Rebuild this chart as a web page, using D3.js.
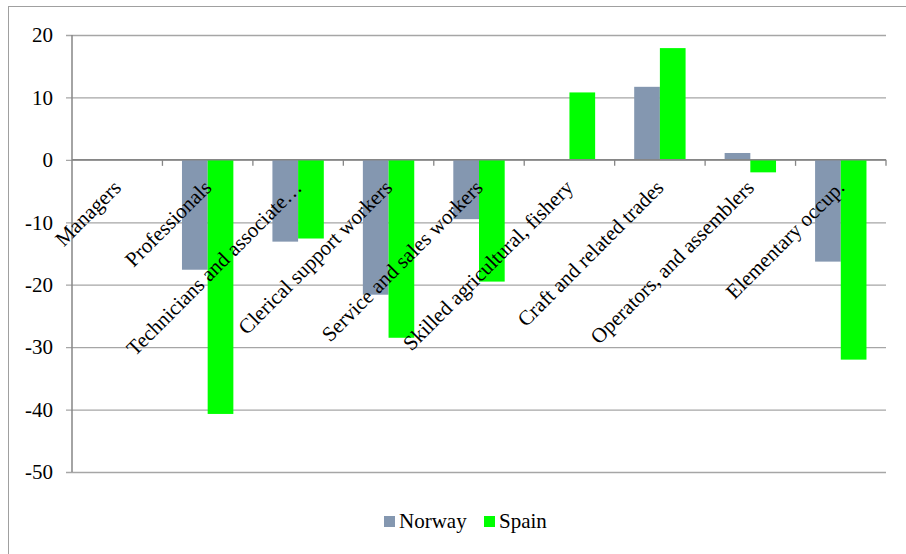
<!DOCTYPE html>
<html>
<head>
<meta charset="utf-8">
<script src="https://cdn.jsdelivr.net/npm/d3@7"></script>
<style>
  html, body { margin: 0; padding: 0; background: #fff; }
  svg { display: block; }
</style>
</head>
<body>
<svg id="chart" width="906" height="554"></svg>
<script>
// Occupational groups and the change per country
const categories = [
  "Managers",
  "Professionals",
  "Technicians and associate…",
  "Clerical support workers",
  "Service and sales workers",
  "Skilled agricultural, fishery",
  "Craft and related trades",
  "Operators, and assemblers",
  "Elementary occup."
];
const seriesNames = ["Norway", "Spain"];
const norway = [0, -17.6, -13.1, -21.6, -9.5, 0, 11.7, 1.1, -16.3];
const spain  = [0, -40.7, -12.6, -28.5, -19.5, 10.8, 17.9, -2.0, -32.0];
const yTicks = [20, 10, 0, -10, -20, -30, -40, -50];
const colors = ["#8497b0", "#00ff00"];

const FONT = "'Liberation Serif'";
const FS = "21px";
const svg = d3.select("#chart");
const W = 906, H = 554;
const plot = { left: 72, right: 886, top: 35, bottom: 472 };

// outer chart frame
svg.append("rect")
  .attr("x", 8.5).attr("y", 6.5)
  .attr("width", W + 20).attr("height", H + 20)
  .attr("fill", "none").attr("stroke", "#a0a0a0").attr("stroke-width", 1);

const x = d3.scaleBand().domain(categories).range([plot.left, plot.right]).paddingInner(0).paddingOuter(0);
const inner = d3.scaleBand().domain(seriesNames).range([0, x.bandwidth()]).paddingInner(0).paddingOuter(0.76);
const y = d3.scaleLinear().domain([-50, 20]).range([plot.bottom, plot.top]);

// horizontal gridlines with left tick marks
const yAxis = d3.axisLeft(y).tickValues(yTicks).tickSize(-(plot.right - plot.left)).tickPadding(19).tickFormat(d => String(d));
const gy = svg.append("g").attr("transform", `translate(${plot.left},0)`).call(yAxis);
gy.select(".domain").remove();
gy.selectAll(".tick line")
  .attr("x1", -6)
  .attr("stroke", "#a6a6a6").attr("stroke-width", 1.3);
gy.selectAll(".tick text")
  .style("font-family", FONT).style("font-size", FS).attr("fill", "#000");

// left axis line
svg.append("line")
  .attr("x1", plot.left).attr("x2", plot.left)
  .attr("y1", plot.top).attr("y2", plot.bottom)
  .attr("stroke", "#868686").attr("stroke-width", 1.5);

// bars
const rows = categories.map((c, i) => ({ cat: c, vals: [norway[i], spain[i]] }));
const groups = svg.append("g").selectAll("g").data(rows).join("g")
  .attr("transform", d => `translate(${x(d.cat)},0)`);
groups.selectAll("rect")
  .data(d => d.vals.map((v, j) => ({ name: seriesNames[j], v, j })))
  .join("rect")
  .attr("x", d => inner(d.name))
  .attr("width", inner.bandwidth())
  .attr("y", d => y(Math.max(0, d.v)))
  .attr("height", d => Math.abs(y(d.v) - y(0)))
  .attr("fill", d => colors[d.j]);

// zero axis with category boundary ticks
const y0 = y(0);
svg.append("line")
  .attr("x1", plot.left).attr("x2", plot.right)
  .attr("y1", y0).attr("y2", y0)
  .attr("stroke", "#868686").attr("stroke-width", 1.5);
const bounds = categories.map(c => x(c)).concat([plot.right]).slice(1);
svg.append("g").selectAll("line").data(bounds).join("line")
  .attr("x1", d => d).attr("x2", d => d)
  .attr("y1", y0).attr("y2", y0 + 6)
  .attr("stroke", "#868686").attr("stroke-width", 1.3);

// rotated category labels
svg.append("g").selectAll("text").data(categories).join("text")
  .attr("text-anchor", "end")
  .style("font-family", FONT).style("font-size", FS)
  .attr("transform", d => `translate(${x(d) + x.bandwidth() / 2 + 5},${y0 + 29}) rotate(-45)`)
  .text(d => d);

// legend
const legend = svg.append("g");
const legendItems = [{ name: "Norway", x: 384 }, { name: "Spain", x: 484 }];
legendItems.forEach((it, j) => {
  legend.append("rect").attr("x", it.x).attr("y", 516).attr("width", 11).attr("height", 11).attr("fill", colors[j]);
  legend.append("text").attr("x", it.x + 15).attr("y", 528)
    .style("font-family", FONT).style("font-size", FS).text(it.name);
});
</script>
</body>
</html>
